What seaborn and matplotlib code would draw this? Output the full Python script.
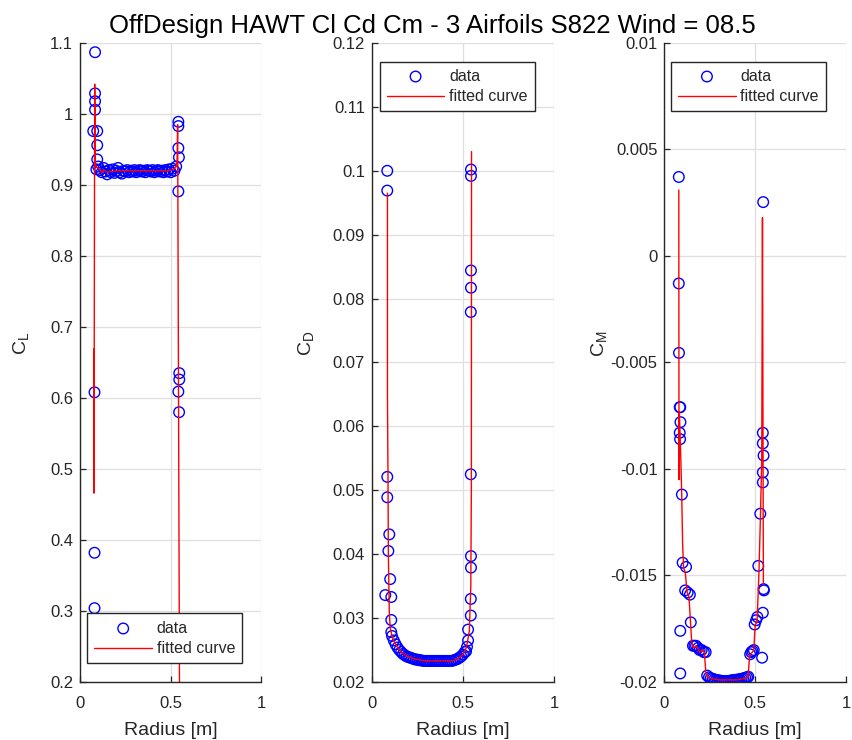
import matplotlib
matplotlib.use("Agg")
import matplotlib.pyplot as plt
import numpy as np
import pandas as pd
import seaborn as sns

# ---- Lift coefficient: sampled data and fitted curve ----
cl_r = [0.083, 0.083, 0.083, 0.083, 0.073, 0.095, 0.095, 0.095, 0.080, 0.080, 0.080,
        0.09, 0.10, 0.11, 0.12, 0.13, 0.14, 0.15, 0.16, 0.17, 0.18, 0.19, 0.20, 0.21,
        0.22, 0.23, 0.24, 0.25, 0.26, 0.27, 0.28, 0.29, 0.30, 0.31, 0.32, 0.33, 0.34,
        0.35, 0.36, 0.37, 0.38, 0.39, 0.40, 0.41, 0.42, 0.43, 0.44, 0.45, 0.46, 0.47,
        0.48, 0.49, 0.50, 0.51, 0.52, 0.53,
        0.542, 0.542, 0.542, 0.545, 0.542, 0.547, 0.547, 0.542, 0.546]
cl_val = [1.087, 1.029, 1.018, 1.006, 0.976, 0.976, 0.956, 0.936, 0.608, 0.382, 0.304,
          0.922, 0.926, 0.921, 0.918, 0.924, 0.919, 0.915, 0.921, 0.918, 0.922, 0.917,
          0.920, 0.924, 0.918, 0.916, 0.920, 0.919, 0.921, 0.918, 0.920, 0.919, 0.921,
          0.918, 0.920, 0.921, 0.919, 0.920, 0.918, 0.921, 0.920, 0.919, 0.921, 0.918,
          0.920, 0.921, 0.919, 0.920, 0.918, 0.921, 0.919, 0.922, 0.918, 0.923, 0.920,
          0.926,
          0.989, 0.983, 0.952, 0.939, 0.891, 0.635, 0.626, 0.609, 0.580]
cl_fit_r = [0.076, 0.077, 0.081, 0.085, 0.090, 0.100, 0.110, 0.120, 0.130, 0.140,
            0.150, 0.170, 0.200, 0.250, 0.300, 0.350, 0.400, 0.450, 0.480, 0.500,
            0.520, 0.530, 0.535, 0.538, 0.550]
cl_fit_val = [0.669, 0.466, 1.042, 0.927, 0.925, 0.924, 0.922, 0.917, 0.921, 0.920,
              0.918, 0.919, 0.920, 0.920, 0.920, 0.920, 0.920, 0.920, 0.920, 0.921,
              0.923, 0.926, 0.935, 0.985, 0.050]

# ---- Drag coefficient ----
cd_r = [0.084, 0.084, 0.084, 0.084, 0.095, 0.090, 0.100, 0.073, 0.106, 0.106, 0.106,
        0.11, 0.12, 0.13, 0.14, 0.15, 0.16, 0.17, 0.18, 0.19, 0.20, 0.21, 0.22, 0.23,
        0.24, 0.25, 0.26, 0.27, 0.28, 0.29, 0.30, 0.31, 0.32, 0.33, 0.34, 0.35, 0.36,
        0.37, 0.38, 0.39, 0.40, 0.41, 0.42, 0.43, 0.44, 0.45, 0.46, 0.47, 0.48, 0.49,
        0.50, 0.51,
        0.544, 0.544, 0.544, 0.544, 0.543, 0.543, 0.544, 0.544, 0.543, 0.543, 0.528,
        0.528, 0.522, 0.517]
cd_val = [0.1000, 0.0969, 0.0521, 0.0489, 0.0431, 0.0405, 0.0361, 0.0336, 0.0333,
          0.0297, 0.0278,
          0.0272, 0.0265, 0.0259, 0.0254, 0.0250, 0.0247, 0.0244, 0.0242, 0.0240,
          0.0239, 0.0238, 0.0237, 0.0236, 0.0235, 0.0235, 0.0234, 0.0234, 0.0233,
          0.0233, 0.0233, 0.0233, 0.0233, 0.0233, 0.0233, 0.0233, 0.0233, 0.0233,
          0.0233, 0.0233, 0.0233, 0.0233, 0.0233, 0.0233, 0.0233, 0.0234, 0.0235,
          0.0236, 0.0238, 0.0240, 0.0243, 0.0247,
          0.1002, 0.0992, 0.0844, 0.0817, 0.0779, 0.0525, 0.0397, 0.0379, 0.0330,
          0.0304, 0.0282, 0.0265, 0.0255, 0.0248]
cd_fit_r = [0.085, 0.085, 0.088, 0.090, 0.095, 0.100, 0.110, 0.120, 0.140, 0.160,
            0.200, 0.250, 0.300, 0.440, 0.470, 0.500, 0.520, 0.535, 0.543, 0.546,
            0.547]
cd_fit_val = [0.0965, 0.0650, 0.0520, 0.0400, 0.0310, 0.0285, 0.0272, 0.0264,
              0.0254, 0.0247, 0.0239, 0.0235, 0.0233, 0.0233, 0.0236, 0.0243,
              0.0255, 0.0280, 0.0350, 0.0500, 0.1030]

# ---- Moment coefficient ----
cm_r = [0.079, 0.079, 0.080, 0.084, 0.087, 0.088, 0.084, 0.086, 0.096, 0.100, 0.119,
        0.114, 0.128, 0.140, 0.087, 0.145, 0.087,
        0.157, 0.165, 0.174, 0.185, 0.194, 0.205, 0.217, 0.227,
        0.235, 0.245, 0.255, 0.265, 0.275, 0.285, 0.295, 0.305, 0.315, 0.325, 0.335,
        0.345, 0.355, 0.365, 0.375, 0.385, 0.395, 0.405, 0.415, 0.425, 0.435, 0.445,
        0.455, 0.462,
        0.472, 0.478, 0.485, 0.492, 0.497, 0.505, 0.512, 0.517, 0.528, 0.538, 0.542,
        0.546, 0.548, 0.542, 0.542, 0.546, 0.542, 0.542, 0.544]
cm_val = [0.00371, -0.00129, -0.00455, -0.0071, -0.0071, -0.0078, -0.0083, -0.0086,
          -0.0112, -0.0144, -0.0146, -0.0157, -0.0158, -0.0159, -0.0176, -0.0172,
          -0.0196,
          -0.0183, -0.0183, -0.0183, -0.0184, -0.0185, -0.0185, -0.0186, -0.0186,
          -0.01970, -0.01978, -0.01982, -0.01985, -0.01988, -0.01990, -0.01992,
          -0.01993, -0.01995, -0.01995, -0.01996, -0.01995, -0.01995, -0.01993,
          -0.01992, -0.01990, -0.01990, -0.01988, -0.01987, -0.01985, -0.01983,
          -0.01980, -0.01978, -0.01975,
          -0.0187, -0.0186, -0.01855, -0.0185, -0.0173, -0.0171, -0.01695, -0.01455,
          -0.0121, -0.01886, -0.01675, -0.01564, -0.0157, -0.01063, -0.01016,
          -0.00937, -0.0083, -0.0088, 0.00253]
cm_fit_r = [0.079, 0.080, 0.082, 0.090, 0.095, 0.100, 0.105, 0.115, 0.125, 0.135,
            0.150, 0.160, 0.175, 0.195, 0.210, 0.220, 0.228, 0.240, 0.300, 0.400,
            0.460, 0.470, 0.485, 0.492, 0.500, 0.510, 0.520, 0.528, 0.536, 0.540,
            0.545]
cm_fit_val = [0.0031, -0.0105, -0.0073, -0.0095, -0.0112, -0.0135, -0.0146, -0.0149,
              -0.0158, -0.0160, -0.0181, -0.0184, -0.0183, -0.0186, -0.0185, -0.0186,
              -0.0196, -0.0198, -0.0199, -0.0199, -0.0198, -0.0187, -0.0186, -0.0185,
              -0.0173, -0.0172, -0.0150, -0.0125, -0.0095, 0.0018, -0.0154]

# ---- axis ticks ----
x_ticks = [0, 0.5, 1]
x_ticklabels = ["0", "0.5", "1"]
cl_ticks = [0.2, 0.3, 0.4, 0.5, 0.6, 0.7, 0.8, 0.9, 1.0, 1.1]
cl_ticklabels = ["0.2", "0.3", "0.4", "0.5", "0.6", "0.7", "0.8", "0.9", "1", "1.1"]
cd_ticks = [0.02, 0.03, 0.04, 0.05, 0.06, 0.07, 0.08, 0.09, 0.10, 0.11, 0.12]
cd_ticklabels = ["0.02", "0.03", "0.04", "0.05", "0.06", "0.07", "0.08", "0.09",
                 "0.1", "0.11", "0.12"]
cm_ticks = [-0.02, -0.015, -0.01, -0.005, 0.0, 0.005, 0.01]
cm_ticklabels = ["-0.02", "-0.015", "-0.01", "-0.005", "0", "0.005", "0.01"]

title = "OffDesign HAWT Cl Cd Cm - 3 Airfoils S822 Wind = 08.5"

sns.set_style("white")
plt.rcParams["font.family"] = ["Liberation Sans", "DejaVu Sans"]
plt.rcParams["mathtext.fontset"] = "custom"
plt.rcParams["mathtext.rm"] = "Liberation Sans"
plt.rcParams["mathtext.it"] = "Liberation Sans"
plt.rcParams["axes.unicode_minus"] = False

INK = "#262626"
GRID = "#dfdfdf"

fig = plt.figure(figsize=(8.52, 7.40), dpi=100)
fig.patch.set_facecolor("white")

panels = [
    dict(rect=[0.0939, 0.0784, 0.2130, 0.8635], r=cl_r, v=cl_val, fr=cl_fit_r,
         fv=cl_fit_val, ylim=(0.2, 1.1), yt=cl_ticks, ytl=cl_ticklabels,
         ylabel=r"$\mathrm{C}_{\mathrm{L}}$", leg=("lower left", (0.04, 0.029)),
         lab_x=-0.27),
    dict(rect=[0.4366, 0.0784, 0.2136, 0.8635], r=cd_r, v=cd_val, fr=cd_fit_r,
         fv=cd_fit_val, ylim=(0.02, 0.12), yt=cd_ticks, ytl=cd_ticklabels,
         ylabel=r"$\mathrm{C}_{\mathrm{D}}$", leg=("upper left", (0.042, 0.971)),
         lab_x=-0.305),
    dict(rect=[0.7799, 0.0784, 0.2130, 0.8635], r=cm_r, v=cm_val, fr=cm_fit_r,
         fv=cm_fit_val, ylim=(-0.02, 0.01), yt=cm_ticks, ytl=cm_ticklabels,
         ylabel=r"$\mathrm{C}_{\mathrm{M}}$", leg=("upper left", (0.036, 0.971)),
         lab_x=-0.305),
]

for p in panels:
    ax = fig.add_axes(p["rect"])
    pts = pd.DataFrame({"r": p["r"], "v": p["v"]})
    fit = pd.DataFrame({"r": p["fr"], "v": p["fv"]})
    sns.scatterplot(data=pts, x="r", y="v", ax=ax, marker="o", s=58,
                    color="blue", facecolor="none", edgecolor="blue",
                    linewidth=1.0, label="data", zorder=3)
    sns.lineplot(data=fit, x="r", y="v", ax=ax, sort=False, estimator=None,
                 color="red", linewidth=1.0, label="fitted curve", zorder=4)

    ax.set_xlim(0, 1)
    ax.set_ylim(*p["ylim"])
    ax.set_xticks(x_ticks)
    ax.set_xticklabels(x_ticklabels)
    ax.set_yticks(p["yt"])
    ax.set_yticklabels(p["ytl"])
    ax.grid(True, color=GRID, linewidth=0.9)
    ax.set_axisbelow(True)
    for side in ("top", "right"):
        ax.spines[side].set_visible(False)
    for side in ("left", "bottom"):
        ax.spines[side].set_color(INK)
        ax.spines[side].set_linewidth(1.0)
    ax.tick_params(direction="in", length=4, width=0.9, colors=INK,
                   labelsize=12, pad=5, left=True, bottom=True)
    ax.tick_params(axis="x", pad=10)
    ax.set_xlabel("Radius [m]", fontsize=14, color=INK, labelpad=8)
    ax.set_ylabel(p["ylabel"], fontsize=14, color=INK)
    ax.yaxis.set_label_coords(p["lab_x"], 0.53)

    loc, anchor = p["leg"]
    leg = ax.legend(loc=loc, bbox_to_anchor=anchor, borderaxespad=0,
                    fontsize=11.5, frameon=True, fancybox=False, framealpha=1,
                    edgecolor=INK, handlelength=3.6, handletextpad=0.3,
                    borderpad=0.45, labelspacing=0.35, scatterpoints=1)
    leg.get_frame().set_linewidth(1.0)
    for t in leg.get_texts():
        t.set_color(INK)

fig.text(0.507, 1 - 33 / 740, title, ha="center", va="baseline", fontsize=18.5,
         color="black")

fig.savefig("out.png", dpi=100, facecolor="white")
